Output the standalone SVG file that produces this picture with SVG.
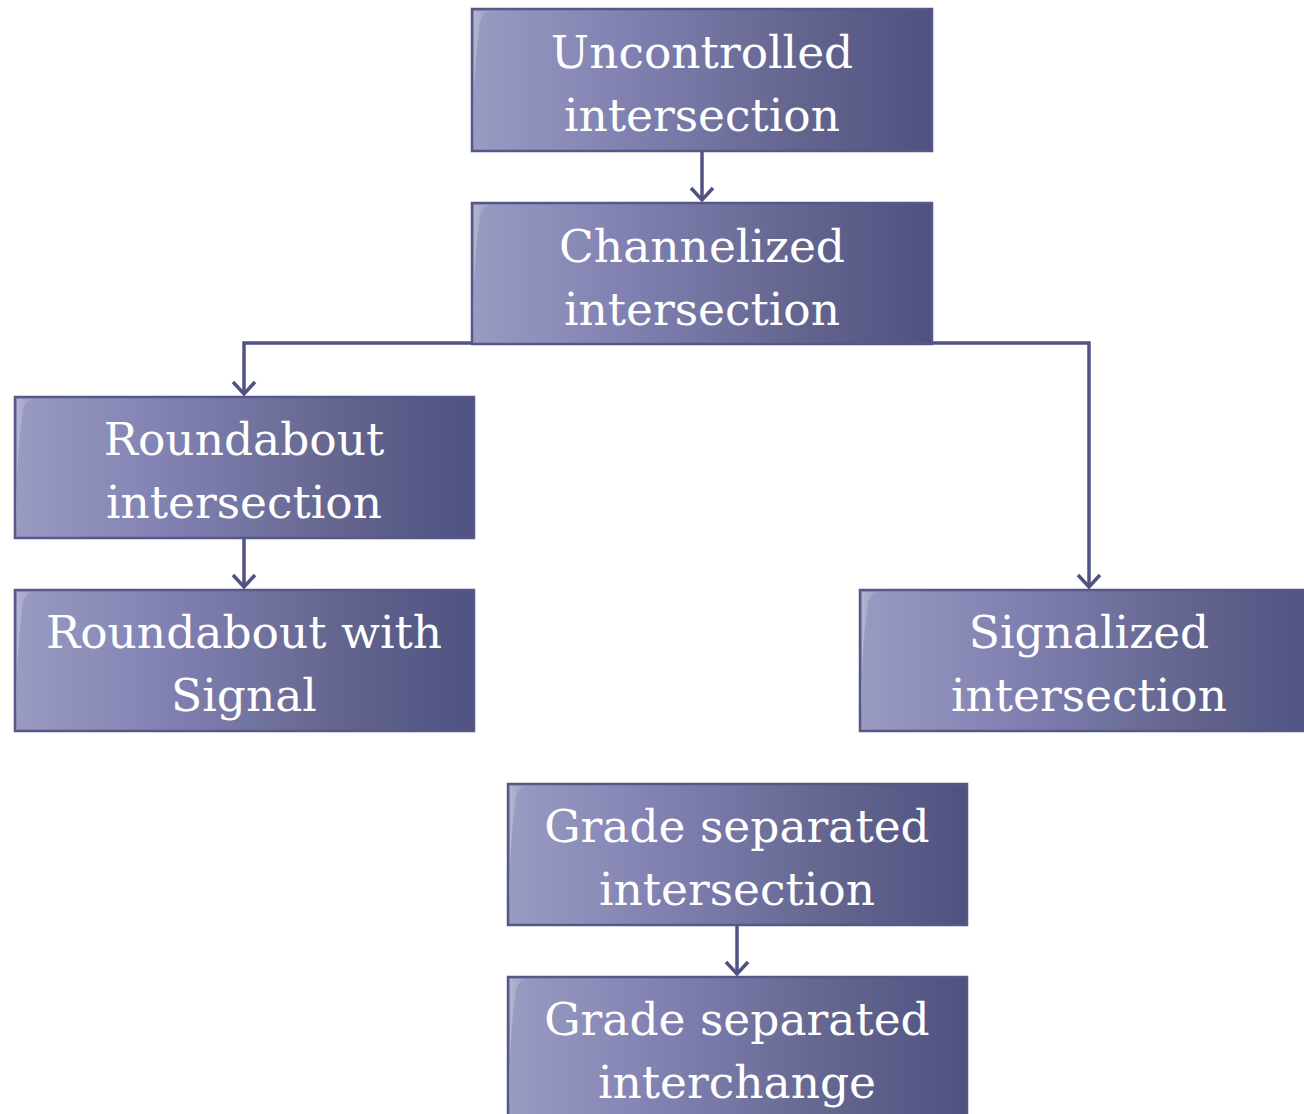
<svg xmlns="http://www.w3.org/2000/svg" width="1304" height="1114" viewBox="0 0 1304 1114">
<defs>
<linearGradient id="g" x1="0" y1="0" x2="1" y2="0">
<stop offset="0" stop-color="#9a9bc2"/>
<stop offset="0.35" stop-color="#7f80b0"/>
<stop offset="0.7" stop-color="#64668f"/>
<stop offset="1" stop-color="#4f5281"/>
</linearGradient>
<linearGradient id="hl" x1="0" y1="0" x2="1" y2="0">
<stop offset="0" stop-color="#ffffff" stop-opacity="0.25"/>
<stop offset="1" stop-color="#ffffff" stop-opacity="0"/>
</linearGradient>
<marker id="arr" markerWidth="30" markerHeight="30" viewBox="-15 -15 30 30" refX="0" refY="0" orient="auto" markerUnits="userSpaceOnUse">
<path d="M-12,-11 L0,0 L-12,11" fill="none" stroke="#4f5282" stroke-width="3.5"/>
</marker>
</defs>
<style>
.box{fill:url(#g);stroke:#555889;stroke-width:2.5}
.gl{fill:url(#hl)}
.t{font-family:"DejaVu Serif","Liberation Serif",serif;font-size:45.5px;fill:#ffffff;text-anchor:middle}
.c{fill:none;stroke:#4f5282;stroke-width:3.5}
</style>
<g id="connectors">
<path class="c" d="M702,151 L702,200" marker-end="url(#arr)"/>
<path class="c" d="M472,343 L244,343 L244,394" marker-end="url(#arr)"/>
<path class="c" d="M932,343 L1089,343 L1089,587" marker-end="url(#arr)"/>
<path class="c" d="M244,538 L244,587" marker-end="url(#arr)"/>
<path class="c" d="M737,925 L737,974" marker-end="url(#arr)"/>
</g>
<g id="n1">
<rect class="box" x="472" y="9" width="460" height="142"/>
<path class="gl" d="M474,140 Q472,80 480,22 Q482,11 495,11 L474,11 Z"/>
<text class="t" x="702" y="68">Uncontrolled</text>
<text class="t" x="702" y="131">intersection</text>
</g>
<g id="n2">
<rect class="box" x="472" y="203" width="460" height="141"/>
<path class="gl" d="M474,333 Q472,273 480,216 Q482,205 495,205 L474,205 Z"/>
<text class="t" x="702" y="262">Channelized</text>
<text class="t" x="702" y="325">intersection</text>
</g>
<g id="n3">
<rect class="box" x="15" y="397" width="459" height="141"/>
<path class="gl" d="M17,527 Q15,467 23,410 Q25,399 38,399 L17,399 Z"/>
<text class="t" x="244" y="455">Roundabout</text>
<text class="t" x="244" y="518">intersection</text>
</g>
<g id="n4">
<rect class="box" x="15" y="590" width="459" height="141"/>
<path class="gl" d="M17,720 Q15,660 23,603 Q25,592 38,592 L17,592 Z"/>
<text class="t" x="244" y="648">Roundabout with</text>
<text class="t" x="244" y="711">Signal</text>
</g>
<g id="n5">
<rect class="box" x="860" y="590" width="460" height="141"/>
<path class="gl" d="M862,720 Q860,660 868,603 Q870,592 883,592 L862,592 Z"/>
<text class="t" x="1089" y="648">Signalized</text>
<text class="t" x="1089" y="711">intersection</text>
</g>
<g id="n6">
<rect class="box" x="508" y="784" width="459" height="141"/>
<path class="gl" d="M510,914 Q508,854 516,797 Q518,786 531,786 L510,786 Z"/>
<text class="t" x="737" y="842">Grade separated</text>
<text class="t" x="737" y="905">intersection</text>
</g>
<g id="n7">
<rect class="box" x="508" y="977" width="459" height="141"/>
<path class="gl" d="M510,1107 Q508,1047 516,990 Q518,979 531,979 L510,979 Z"/>
<text class="t" x="737" y="1035">Grade separated</text>
<text class="t" x="737" y="1098">interchange</text>
</g>
</svg>
